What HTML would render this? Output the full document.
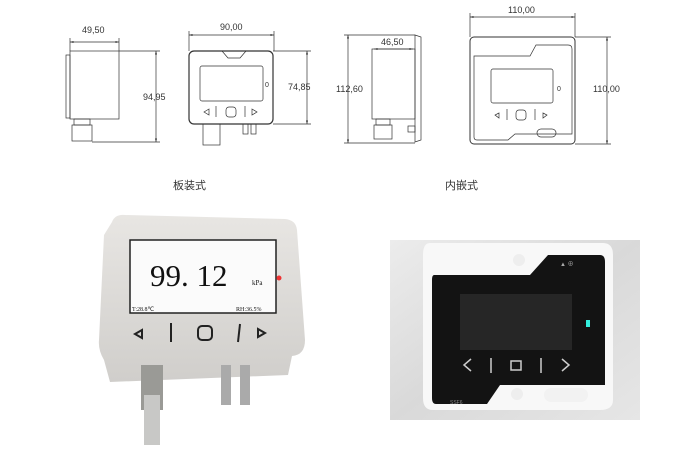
<!DOCTYPE html>
<html><head><meta charset="utf-8"><style>
html,body{margin:0;padding:0;background:#fff;width:695px;height:461px;overflow:hidden}
svg{display:block}
text{font-family:"Liberation Sans","Noto Sans CJK SC",sans-serif;fill:#333}
text.s{font-family:"Liberation Serif",serif;fill:#111}
</style></head><body>
<svg width="695" height="461" viewBox="0 0 695 461" xmlns="http://www.w3.org/2000/svg">
<defs>
<marker id="a" viewBox="0 0 10 10" refX="10" refY="5" markerWidth="5" markerHeight="5" orient="auto-start-reverse"><path d="M0,2 L10,5 L0,8z" fill="#333"/></marker>
<linearGradient id="dev" x1="0" y1="0" x2="0" y2="1"><stop offset="0" stop-color="#e8e6e3"/><stop offset="1" stop-color="#d0cecb"/></linearGradient>
<linearGradient id="mar" x1="0" y1="0" x2="1" y2="1"><stop offset="0" stop-color="#ececec"/><stop offset=".5" stop-color="#d9d9d9"/><stop offset="1" stop-color="#e6e6e6"/></linearGradient>
</defs>
<g stroke="#333" stroke-width=".7" fill="none">
<rect x="66" y="55" width="4" height="63"/>
<rect x="70" y="51" width="49" height="68"/>
<rect x="74" y="119" width="16" height="6"/>
<rect x="72" y="125" width="20" height="16"/>
<line x1="70" y1="42" x2="119" y2="42" marker-start="url(#a)" marker-end="url(#a)"/>
<line x1="70" y1="38" x2="70" y2="51"/><line x1="119" y1="38" x2="119" y2="51"/>
<line x1="156" y1="51" x2="156" y2="142" marker-start="url(#a)" marker-end="url(#a)"/>
<line x1="119" y1="51" x2="160" y2="51"/><line x1="92" y1="142" x2="160" y2="142"/>
<rect x="189" y="51" width="84" height="73" rx="5" stroke-width="1.2"/>
<path d="M222,51 L228,58 L240,58 L246,51"/>
<rect x="200" y="66" width="63" height="35" rx="2"/>
<rect x="226" y="107" width="10" height="10" rx="3"/>
<line x1="216" y1="106" x2="216" y2="117"/><line x1="245" y1="106" x2="245" y2="117"/>
<path d="M209,109 L204,112 L209,115z M252,109 L257,112 L252,115z"/>
<rect x="203" y="124" width="17" height="21"/>
<rect x="243" y="124" width="5" height="10"/><rect x="251" y="124" width="5" height="10"/>
<line x1="189" y1="35" x2="274" y2="35" marker-start="url(#a)" marker-end="url(#a)"/>
<line x1="189" y1="31" x2="189" y2="51"/><line x1="274" y1="31" x2="274" y2="51"/>
<line x1="307" y1="51" x2="307" y2="124" marker-start="url(#a)" marker-end="url(#a)"/>
<line x1="273" y1="51" x2="311" y2="51"/><line x1="273" y1="124" x2="311" y2="124"/>
<rect x="372" y="49" width="43" height="70"/>
<path d="M415,35 L421,37 L421,140 L415,142z"/>
<rect x="376" y="119" width="14" height="6"/><rect x="374" y="125" width="18" height="14"/>
<rect x="408" y="126" width="7" height="6"/>
<line x1="374" y1="49" x2="413" y2="49" marker-start="url(#a)" marker-end="url(#a)"/>
<line x1="348" y1="35" x2="348" y2="143" marker-start="url(#a)" marker-end="url(#a)"/>
<line x1="344" y1="35" x2="415" y2="35"/><line x1="344" y1="143" x2="415" y2="143"/>
<rect x="470" y="37" width="105" height="107" rx="4" stroke-width="1"/>
<path d="M474,56 L530,56 L536,45 L568,45 Q572,45 572,49 L572,134 L515,134 L508,140 L477,140 Q474,140 474,137z"/>
<rect x="491" y="69" width="62" height="34" rx="2"/>
<rect x="516" y="110" width="10" height="10" rx="3"/>
<line x1="507" y1="109" x2="507" y2="120"/><line x1="535" y1="109" x2="535" y2="120"/>
<path d="M499,113 L495,115 L499,118z M543,113 L547,115 L543,118z"/>
<rect x="537" y="129" width="19" height="8" rx="4"/>
<line x1="470" y1="17" x2="575" y2="17" marker-start="url(#a)" marker-end="url(#a)"/>
<line x1="470" y1="13" x2="470" y2="37"/><line x1="575" y1="13" x2="575" y2="37"/>
<line x1="607" y1="37" x2="607" y2="144" marker-start="url(#a)" marker-end="url(#a)"/>
<line x1="575" y1="37" x2="611" y2="37"/><line x1="575" y1="144" x2="611" y2="144"/>
</g>
<g font-size="9">
<text x="82" y="33">49,50</text>
<text x="143" y="100">94,95</text>
<text x="220" y="30">90,00</text>
<text x="265" y="87" font-size="7">0</text>
<text x="288" y="90">74,85</text>
<text x="336" y="92">112,60</text>
<text x="381" y="45">46,50</text>
<text x="508" y="13">110,00</text>
<text x="557" y="91" font-size="7">0</text>
<text x="593" y="92">110,00</text>
</g>
<text x="173" y="189" font-size="11">板装式</text>
<text x="445" y="189" font-size="11">内嵌式</text>
<path d="M112,222 Q115,214 125,215 L285,219 Q296,220 297,230 L305,340 Q305,355 292,356 L288,375 L110,382 L104,360 Q98,350 99,340 L104,235z" fill="url(#dev)"/>
<rect x="130" y="240" width="146" height="73" fill="#fbfbfb" stroke="#222" stroke-width="1.5"/>
<text class="s" x="150" y="286" font-size="31">99. 12</text>
<text class="s" x="252" y="285" font-size="7">kPa</text>
<text class="s" x="132" y="311" font-size="6">T:28.8℃</text>
<text class="s" x="236" y="311" font-size="6">RH:36.5%</text>
<circle cx="279" cy="278" r="2.5" fill="#e33"/>
<path d="M142,330 L135,334 L142,338z" fill="none" stroke="#222" stroke-width="2"/>
<line x1="171" y1="323" x2="171" y2="342" stroke="#222" stroke-width="2"/>
<rect x="198" y="326" width="14" height="14" rx="4" fill="none" stroke="#222" stroke-width="2"/>
<line x1="240" y1="324" x2="238" y2="342" stroke="#222" stroke-width="2"/>
<path d="M258,329 L265,333 L258,337z" fill="none" stroke="#222" stroke-width="2"/>
<rect x="141" y="365" width="22" height="45" fill="#9a9a96"/>
<rect x="144" y="395" width="16" height="50" fill="#c8c8c6"/>
<rect x="221" y="365" width="10" height="40" fill="#aaa"/>
<rect x="240" y="365" width="10" height="40" fill="#aaa"/>
<rect x="390" y="240" width="250" height="180" fill="url(#mar)"/>
<path d="M430,243 L603,243 Q613,243 613,255 L613,400 Q613,410 600,410 L433,410 Q423,410 423,398 L423,255 Q423,243 430,243z" fill="#f8f8f8"/>
<path d="M434,275 L530,275 L548,255 L600,255 Q605,255 605,262 L605,385 L500,385 L487,404 L436,404 Q432,404 432,398 L432,280 Q432,275 434,275z" fill="#131313"/>
<rect x="460" y="294" width="112" height="56" fill="#262626"/>
<rect x="586" y="320" width="4" height="7" fill="#3ed"/>
<circle cx="519" cy="260" r="6" fill="#eee"/>
<circle cx="517" cy="394" r="6" fill="#eee"/>
<rect x="544" y="388" width="44" height="14" rx="7" fill="#f2f2f2"/>
<g stroke="#ccc" stroke-width="1.5" fill="none">
<path d="M471,359 L464,365 L471,371"/>
<line x1="491" y1="358" x2="491" y2="373"/>
<rect x="511" y="361" width="10" height="9"/>
<line x1="541" y1="358" x2="541" y2="373"/>
<path d="M562,359 L569,365 L562,371"/>
</g>
<text x="560" y="266" font-size="6" style="fill:#aaa">▲ ⊕</text>
<text x="450" y="404" font-size="5" style="fill:#888">SSF6</text>
</svg>
</body></html>
